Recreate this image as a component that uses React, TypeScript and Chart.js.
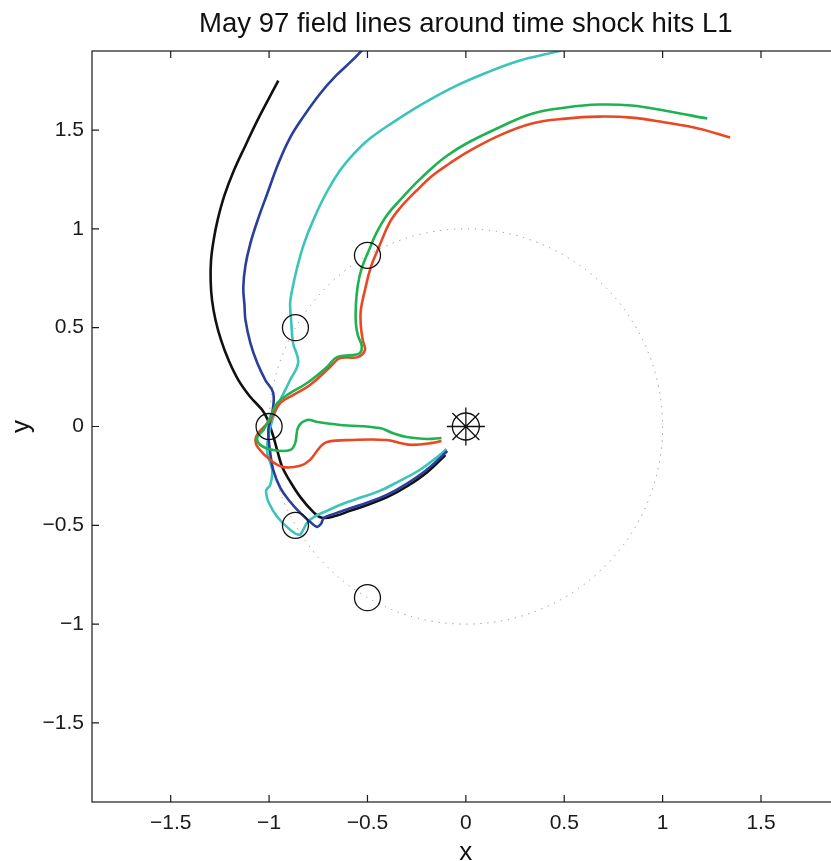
import React, { useEffect, useRef } from "react";
import { Chart, registerables } from "chart.js";

Chart.register(...registerables);

const TITLE = "May 97 field lines around time shock hits L1";
const X_LABEL = "x";
const Y_LABEL = "y";
const tickValues = [-1.5, -1, -0.5, 0, 0.5, 1, 1.5];
const axisMin = -1.9;
const axisMax = 1.9;
const guideRadius = 1;

const blackX = [-0.953, -1.007, -1.060, -1.120, -1.179, -1.227, -1.262, -1.282, -1.295, -1.297, -1.290, -1.272, -1.244, -1.206, -1.156, -1.095, -1.024, -0.984, -0.959, -0.933, -0.898, -0.842, -0.776, -0.731, -0.660, -0.589, -0.498, -0.397, -0.296, -0.195, -0.104];
const blackY = [1.750, 1.649, 1.548, 1.422, 1.295, 1.169, 1.043, 0.942, 0.841, 0.740, 0.639, 0.538, 0.437, 0.336, 0.235, 0.149, 0.068, -0.033, -0.119, -0.205, -0.270, -0.356, -0.432, -0.462, -0.452, -0.427, -0.396, -0.356, -0.301, -0.230, -0.144];

const blueX = [-0.478, -0.529, -0.579, -0.660, -0.741, -0.822, -0.893, -0.953, -1.009, -1.055, -1.095, -1.120, -1.131, -1.125, -1.120, -1.095, -1.060, -1.019, -0.979, -0.984, -1.004, -0.994, -0.979, -0.943, -0.893, -0.842, -0.792, -0.756, -0.736, -0.721, -0.670, -0.599, -0.503, -0.402, -0.301, -0.200, -0.094];
const blueY = [1.952, 1.902, 1.851, 1.775, 1.684, 1.573, 1.462, 1.331, 1.179, 1.053, 0.927, 0.816, 0.705, 0.614, 0.538, 0.422, 0.321, 0.235, 0.169, 0.068, -0.018, -0.134, -0.220, -0.311, -0.381, -0.437, -0.482, -0.508, -0.492, -0.462, -0.442, -0.417, -0.386, -0.346, -0.290, -0.220, -0.124];

const cyanX = [0.534, 0.458, 0.271, 0.104, -0.068, -0.235, -0.372, -0.488, -0.564, -0.640, -0.711, -0.776, -0.822, -0.857, -0.883, -0.893, -0.888, -0.878, -0.852, -0.893, -0.943, -0.979, -1.004, -1.009, -0.984, -0.994, -1.014, -1.014, -1.004, -0.959, -0.893, -0.847, -0.827, -0.807, -0.771, -0.706, -0.625, -0.539, -0.438, -0.336, -0.235, -0.139, -0.099];
const cyanY = [1.917, 1.896, 1.851, 1.790, 1.715, 1.624, 1.538, 1.457, 1.386, 1.295, 1.179, 1.043, 0.927, 0.806, 0.689, 0.624, 0.538, 0.422, 0.326, 0.235, 0.134, 0.048, -0.053, -0.134, -0.220, -0.295, -0.321, -0.341, -0.381, -0.457, -0.523, -0.548, -0.523, -0.487, -0.457, -0.427, -0.391, -0.361, -0.326, -0.275, -0.220, -0.149, -0.114];

const greenX = [1.227, 1.014, 0.842, 0.675, 0.508, 0.336, 0.169, 0.003, -0.094, -0.169, -0.250, -0.336, -0.402, -0.453, -0.493, -0.529, -0.549, -0.559, -0.559, -0.549, -0.529, -0.539, -0.574, -0.655, -0.706, -0.807, -0.893, -0.959, -0.994, -1.029, -1.060, -1.045, -0.979, -0.893, -0.867, -0.852, -0.807, -0.756, -0.640, -0.438, -0.372, -0.301, -0.200, -0.124];
const greenY = [1.558, 1.598, 1.624, 1.629, 1.614, 1.583, 1.513, 1.432, 1.371, 1.311, 1.235, 1.144, 1.068, 0.982, 0.891, 0.801, 0.715, 0.614, 0.523, 0.462, 0.407, 0.371, 0.361, 0.351, 0.301, 0.220, 0.169, 0.119, 0.048, -0.018, -0.053, -0.093, -0.119, -0.119, -0.083, -0.003, 0.033, 0.023, 0.008, -0.008, -0.033, -0.053, -0.063, -0.058];

const redX = [1.343, 1.181, 1.014, 0.842, 0.675, 0.508, 0.336, 0.169, 0.003, -0.083, -0.169, -0.250, -0.336, -0.387, -0.438, -0.483, -0.513, -0.534, -0.534, -0.524, -0.513, -0.549, -0.640, -0.690, -0.792, -0.878, -0.943, -0.994, -1.055, -1.070, -1.055, -0.994, -0.928, -0.842, -0.792, -0.741, -0.706, -0.574, -0.402, -0.336, -0.271, -0.169, -0.124];
const redY = [1.462, 1.508, 1.538, 1.563, 1.568, 1.558, 1.533, 1.472, 1.386, 1.331, 1.270, 1.194, 1.104, 1.033, 0.917, 0.806, 0.689, 0.588, 0.513, 0.437, 0.386, 0.351, 0.346, 0.301, 0.210, 0.159, 0.119, 0.033, -0.033, -0.068, -0.109, -0.169, -0.205, -0.199, -0.169, -0.104, -0.078, -0.068, -0.068, -0.083, -0.093, -0.083, -0.073];

const markerX = [-1, -0.866, -0.5, -0.866, -0.5];
const markerY = [0, 0.5, 0.866, -0.5, -0.866];
const sunX = [0];
const sunY = [0];

const FONT = '"Liberation Sans", Arial, Helvetica, sans-serif';

function zip(xs: number[], ys: number[]) {
  return xs.map((x, i) => ({ x, y: ys[i] }));
}

function fmt(v: number) {
  const s = String(Math.abs(v));
  return v < 0 ? "\u2212" + s : s;
}

const framePlugin = {
  id: "matlabFrame",
  beforeDatasetsDraw(chart: any) {
    const { ctx, scales } = chart;
    const xs = scales.x;
    const ys = scales.y;
    const cx = xs.getPixelForValue(0);
    const cy = ys.getPixelForValue(0);
    const rx = xs.getPixelForValue(guideRadius) - cx;
    const ry = cy - ys.getPixelForValue(guideRadius);
    ctx.save();
    ctx.beginPath();
    ctx.ellipse(cx, cy, rx, ry, 0, 0, Math.PI * 2);
    ctx.setLineDash([1.2, 5.8]);
    ctx.strokeStyle = "#8c8c8c";
    ctx.lineWidth = 1;
    ctx.stroke();
    ctx.restore();
  },
  afterDraw(chart: any) {
    const { ctx, chartArea: a, scales } = chart;
    const xs = scales.x;
    const ys = scales.y;
    ctx.save();
    ctx.strokeStyle = "#1a1a1a";
    ctx.lineWidth = 1.2;
    ctx.strokeRect(a.left, a.top, a.right - a.left, a.bottom - a.top);
    const tl = 7;
    ctx.beginPath();
    tickValues.forEach((v) => {
      const px = xs.getPixelForValue(v);
      ctx.moveTo(px, a.bottom);
      ctx.lineTo(px, a.bottom - tl);
      ctx.moveTo(px, a.top);
      ctx.lineTo(px, a.top + tl);
      const py = ys.getPixelForValue(v);
      ctx.moveTo(a.left, py);
      ctx.lineTo(a.left + tl, py);
      ctx.moveTo(a.right, py);
      ctx.lineTo(a.right - tl, py);
    });
    ctx.stroke();
    ctx.fillStyle = "#111";
    ctx.font = "27.5px " + FONT;
    ctx.textAlign = "center";
    ctx.textBaseline = "middle";
    ctx.fillText(TITLE, (a.left + a.right) / 2, 24);
    ctx.restore();
  },
};

export default function App() {
  const ref = useRef<HTMLCanvasElement | null>(null);
  useEffect(() => {
    if (!ref.current) return;
    const lineDs = (label: string, xs: number[], ys: number[], color: string, order: number) => ({
      label,
      data: zip(xs, ys),
      showLine: true,
      borderColor: color,
      backgroundColor: color,
      borderWidth: 2.6,
      pointRadius: 0,
      tension: 0.4,
      fill: false,
      order,
    });
    const chart = new Chart(ref.current, {
      type: "scatter",
      data: {
        datasets: [
          {
            label: "points",
            data: zip(markerX, markerY),
            pointStyle: "circle",
            pointRadius: 13,
            borderColor: "#111",
            backgroundColor: "rgba(0,0,0,0)",
            borderWidth: 1.3,
            order: 0,
          },
          {
            label: "sun",
            data: zip(sunX, sunY),
            pointStyle: "circle",
            pointRadius: 13.5,
            borderColor: "#111",
            backgroundColor: "rgba(0,0,0,0)",
            borderWidth: 1.3,
            order: 0,
          },
          {
            label: "sunStar",
            data: zip(sunX, sunY),
            pointStyle: "star",
            pointRadius: 19,
            borderColor: "#111",
            backgroundColor: "rgba(0,0,0,0)",
            borderWidth: 1.3,
            order: 0,
          },
          lineDs("green", greenX, greenY, "rgb(30,178,80)", 1),
          lineDs("red", redX, redY, "rgb(232,72,36)", 2),
          lineDs("blue", blueX, blueY, "rgb(42,62,155)", 3),
          lineDs("cyan", cyanX, cyanY, "rgb(58,196,186)", 4),
          lineDs("black", blackX, blackY, "#111111", 5),
        ] as any,
      },
      options: {
        responsive: false,
        animation: false,
        devicePixelRatio: 1,
        layout: { padding: { top: 51, right: 18, left: 0, bottom: 0 } },
        plugins: {
          legend: { display: false },
          tooltip: { enabled: false },
          title: { display: false },
        },
        scales: {
          x: {
            type: "linear",
            position: "bottom",
            min: axisMin,
            max: axisMax,
            grid: { display: false, drawTicks: false },
            border: { display: false },
            afterBuildTicks: (s: any) => {
              s.ticks = tickValues.map((value) => ({ value }));
            },
            afterFit: (s: any) => {
              s.height = 59;
            },
            ticks: {
              autoSkip: false,
              maxRotation: 0,
              padding: 9,
              color: "#1a1a1a",
              font: { family: FONT, size: 21 },
              callback: (v: any) => fmt(Number(v)),
            },
            title: {
              display: true,
              text: X_LABEL,
              color: "#111",
              font: { family: FONT, size: 26, lineHeight: 0.65 },
              padding: { top: 0, bottom: 0 },
            },
          },
          y: {
            type: "linear",
            position: "left",
            min: axisMin,
            max: axisMax,
            grid: { display: false, drawTicks: false },
            border: { display: false },
            afterBuildTicks: (s: any) => {
              s.ticks = tickValues.map((value) => ({ value }));
            },
            afterFit: (s: any) => {
              s.width = 92;
            },
            ticks: {
              autoSkip: false,
              padding: 8,
              color: "#1a1a1a",
              font: { family: FONT, size: 21 },
              callback: (v: any) => fmt(Number(v)),
            },
            title: {
              display: true,
              text: Y_LABEL,
              color: "#111",
              font: { family: FONT, size: 26, lineHeight: 1.2 },
              padding: { top: 6, bottom: 0 },
            },
          },
        },
      } as any,
      plugins: [framePlugin],
    });
    return () => chart.destroy();
  }, []);

  return (
    <div
      style={{
        position: "fixed",
        left: 0,
        top: 0,
        width: 831,
        height: 861,
        overflow: "hidden",
        background: "#fff",
      }}
    >
      <canvas ref={ref} width={860} height={861} style={{ display: "block" }} />
    </div>
  );
}
